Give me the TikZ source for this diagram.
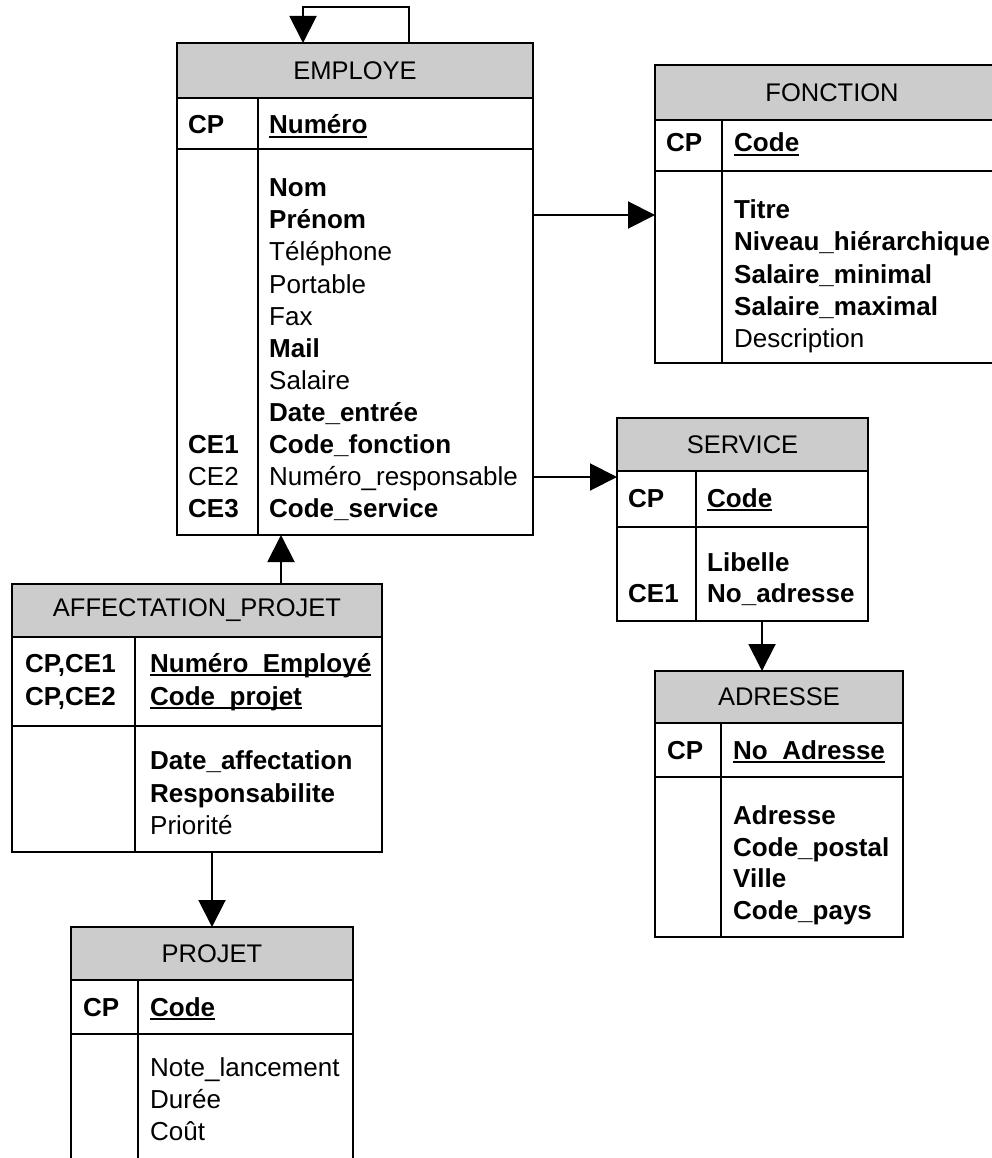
\documentclass[tikz,border=0pt]{standalone}
\usepackage{fontspec}
\setmainfont{Liberation Sans}
\usepackage{tikz}
\usetikzlibrary{arrows.meta}

\newcommand{\souligne}[1]{\setbox0\hbox{#1}\rlap{\rule[-4pt]{\wd0}{2pt}}\box0}

\begin{document}
\begin{tikzpicture}[x=1pt, y=-1pt,
    font=\fontsize{26}{32}\selectfont,
    head/.style={draw, line width=2pt, fill=gray!40, anchor=north west, inner sep=0pt, outer sep=0pt, font=\fontsize{25.5}{32}\selectfont},
    cell/.style={draw, line width=2pt, anchor=north west, inner sep=0pt, outer sep=0pt},
    txt/.style={anchor=base west, inner sep=0pt},
    link/.style={line width=2pt, -{Triangle[width=27pt, length=27pt]}}]

    \useasboundingbox (0,0) rectangle (992,1158);
    \clip (0,0) rectangle (992,1158);

    % EMPLOYE
    \node[head, minimum width=356, minimum height=55] (emph) at (177,43) {EMPLOYE};
    \node[cell, minimum width=81, minimum height=51] (empk) at (emph.south west) {};
    \node[cell, minimum width=275, minimum height=51] (empkn) at (empk.north east) {};
    \node[cell, minimum width=81, minimum height=386] (empb) at (empk.south west) {};
    \node[cell, minimum width=275, minimum height=386] (empbn) at (empb.north east) {};
    \node[txt] (empcp) at (188,134) {\textbf{CP}};
    \node[txt] (empnum) at (269,134) {\textbf{\souligne{Numéro}}};
    \foreach \t [count=\i] in {\textbf{Nom}, \textbf{Prénom}, Téléphone, Portable, Fax, \textbf{Mail}, Salaire, \textbf{Date\_entrée}, \textbf{Code\_fonction}, Numéro\_responsable, \textbf{Code\_service}}{
        \node[txt] (empa\i) at (269, 165+32*\i) {\t};
    }
    \foreach \k/\i in {\textbf{CE1}/9, CE2/10, \textbf{CE3}/11}{
        \node[txt] (empc\i) at (188, 165+32*\i) {\k};
    }

    % FONCTION
    \node[head, minimum width=354, minimum height=55] (fonh) at (655,65) {FONCTION};
    \node[cell, minimum width=67, minimum height=51] (fonk) at (fonh.south west) {};
    \node[cell, minimum width=287, minimum height=51] (fonkn) at (fonk.north east) {};
    \node[cell, minimum width=67, minimum height=192] (fonb) at (fonk.south west) {};
    \node[cell, minimum width=287, minimum height=192] (fonbn) at (fonb.north east) {};
    \node[txt] (foncp) at (666,152) {\textbf{CP}};
    \node[txt] (foncode) at (734,152) {\textbf{\souligne{Code}}};
    \foreach \t [count=\i] in {\textbf{Titre}, \textbf{Niveau\_hiérarchique}, \textbf{Salaire\_minimal}, \textbf{Salaire\_maximal}, Description}{
        \node[txt] (fona\i) at (734, 187+32*\i) {\t};
    }

    % SERVICE
    \node[head, minimum width=251, minimum height=53] (sevh) at (617,418) {SERVICE};
    \node[cell, minimum width=79, minimum height=56] (sevk) at (sevh.south west) {};
    \node[cell, minimum width=172, minimum height=56] (sevkn) at (sevk.north east) {};
    \node[cell, minimum width=79, minimum height=94] (sevb) at (sevk.south west) {};
    \node[cell, minimum width=172, minimum height=94] (sevbn) at (sevb.north east) {};
    \node[txt] (sevcp) at (628,507) {\textbf{CP}};
    \node[txt] (sevcode) at (707,507) {\textbf{\souligne{Code}}};
    \node[txt] (seva1) at (707,571) {\textbf{Libelle}};
    \node[txt] (seva2) at (707,602) {\textbf{No\_adresse}};
    \node[txt] (sevc1) at (628,602) {\textbf{CE1}};

    % ADRESSE
    \node[head, minimum width=248, minimum height=52] (adrh) at (655,671) {ADRESSE};
    \node[cell, minimum width=66, minimum height=54] (adrk) at (adrh.south west) {};
    \node[cell, minimum width=182, minimum height=54] (adrkn) at (adrk.north east) {};
    \node[cell, minimum width=66, minimum height=160] (adrb) at (adrk.south west) {};
    \node[cell, minimum width=182, minimum height=160] (adrbn) at (adrb.north east) {};
    \node[txt] (adrcp) at (667,759) {\textbf{CP}};
    \node[txt] (adrno) at (733,759) {\textbf{\souligne{No\_Adresse}}};
    \foreach \t [count=\i] in {Adresse, Code\_postal, Ville, Code\_pays}{
        \node[txt] (adra\i) at (733, 793+31.5*\i) {\textbf{\t}};
    }

    % AFFECTATION_PROJET
    \node[head, minimum width=370, minimum height=53] (afh) at (12,584) {AFFECTATION\_PROJET};
    \node[cell, minimum width=123, minimum height=89] (afk) at (afh.south west) {};
    \node[cell, minimum width=247, minimum height=89] (afkn) at (afk.north east) {};
    \node[cell, minimum width=123, minimum height=126] (afb) at (afk.south west) {};
    \node[cell, minimum width=247, minimum height=126] (afbn) at (afb.north east) {};
    \node[txt] (afc1) at (25,672) {\textbf{CP,CE1}};
    \node[txt] (afc2) at (25,705) {\textbf{CP,CE2}};
    \node[txt] (afnum) at (150,672) {\textbf{\souligne{Numéro\_Employé}}};
    \node[txt] (afcode) at (150,705) {\textbf{\souligne{Code\_projet}}};
    \node[txt] (afa1) at (150,769) {\textbf{Date\_affectation}};
    \node[txt] (afa2) at (150,802) {\textbf{Responsabilite}};
    \node[txt] (afa3) at (150,834) {Priorité};

    % PROJET
    \node[head, minimum width=282, minimum height=53] (proh) at (71,927) {PROJET};
    \node[cell, minimum width=67, minimum height=54] (prok) at (proh.south west) {};
    \node[cell, minimum width=215, minimum height=54] (prokn) at (prok.north east) {};
    \node[cell, minimum width=67, minimum height=160] (prob) at (prok.south west) {};
    \node[cell, minimum width=215, minimum height=160] (probn) at (prob.north east) {};
    \node[txt] (procp) at (83,1016) {\textbf{CP}};
    \node[txt] (procode) at (150,1016) {\textbf{\souligne{Code}}};
    \foreach \t [count=\i] in {Note\_lancement, Durée, Coût}{
        \node[txt] (proa\i) at (150, 1044+32*\i) {\t};
    }

    \draw[link] (emph.north -| 409,0) -- (409,7) -| (emph.north -| 303,0);
    \draw[link] (empbn.east |- 0,215) -- (fonb.west |- 0,215);
    \draw[link] (empbn.east |- 0,477) -- (sevk.west |- 0,477);
    \draw[link] (sevbn.south -| 762,0) -- (adrh.north -| 762,0);
    \draw[link] (afh.north -| 281,0) -- (empbn.south -| 281,0);
    \draw[link] (afbn.south -| 212,0) -- (proh.north -| 212,0);

\end{tikzpicture}
\end{document}
